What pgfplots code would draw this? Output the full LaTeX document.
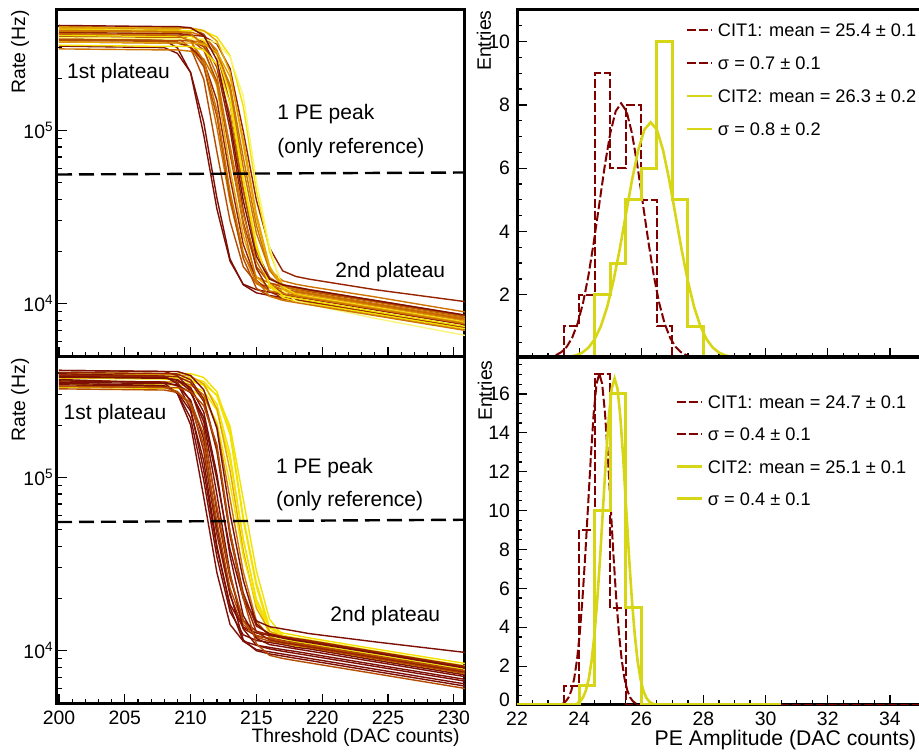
\documentclass[border=0pt]{standalone}
\usepackage{fontspec}
\setmainfont{Liberation Sans}
\usepackage{pgfplots}
\pgfplotsset{compat=1.18}

% ROOT-like colours
\definecolor{cr}{RGB}{128,0,0}
\definecolor{cy}{RGB}{214,214,22}
\definecolor{p1}{RGB}{125,15,5}
\definecolor{p2}{RGB}{150,35,0}
\definecolor{p3}{RGB}{180,75,0}
\definecolor{p4}{RGB}{205,115,0}
\definecolor{p5}{RGB}{228,165,0}
\definecolor{p6}{RGB}{242,225,0}
\definecolor{p7}{RGB}{250,245,120}

\newcommand{\tkfont}{\fontsize{9.7bp}{11bp}\selectfont}
\newcommand{\lbfont}{\fontsize{9.7bp}{11bp}\selectfont}
\newcommand{\anfont}{\fontsize{10.5bp}{12bp}\selectfont}
\newcommand{\lgfont}{\fontsize{9.1bp}{11bp}\selectfont}

\tikzset{
  redline/.style={cr, line width=1bp, dash pattern=on 4.5bp off 1.5bp},
  yelhline/.style={cy, line width=1.5bp},
  yelline/.style={cy, line width=1.3bp},
}

\pgfplotsset{
  rootframe/.style={
    scale only axis,
    axis line style={line width=1.5bp},
    tick align=inside,
    tick pos=left,
    major tick length=5bp,
    minor tick length=2.5bp,
    tick style={line width=0.6bp, black},
    tick label style={font=\tkfont},
    xticklabel={\pgfmathprintnumber[assume math mode=true]{\tick}},
    yticklabel={\pgfmathprintnumber[assume math mode=true]{\tick}},
  },
  ratepanel/.style={
    rootframe,
    width=204bp, height=173.5bp,
    xmin=199.85, xmax=230.85,
    ymin=4.9e3, ymax=4.95e5,
    xtick={200,205,...,230}, minor x tick num=4,
    ytick={1e4,1e5}, yticklabels={10\textsuperscript{4},10\textsuperscript{5}},
    extra y ticks={5e3,6e3,7e3,8e3,9e3,2e4,3e4,4e4,5e4,6e4,7e4,8e4,9e4,2e5,3e5,4e5},
    extra y tick labels={},
    extra y tick style={major tick length=2.5bp},
    yticklabel style={inner sep=1.5bp},
    every axis plot/.append style={line width=0.7bp},
  },
  histpanel/.style={
    rootframe,
    width=202bp, height=174bp,
    xmin=22, xmax=35, ymin=0,
    xtick={22,24,...,34}, minor x tick num=3,
    legend cell align=left,
  },
}

\begin{document}
\begin{tikzpicture}
\path[use as bounding box] (0,0) rectangle (459.5bp,376bp);

% ---------------- top left: threshold scans, first set ----------------
\begin{axis}[ymode=log, ratepanel, name=tl, at={(28.5bp,371bp)}, anchor=north west, xticklabels={}]
\addplot[p1] coordinates {(200,3.42e5)(208,3.31e5)(209,2.99e5)(210,2.15e5)(211,9.39e4)(212,3.51e4)(213,1.75e4)(214,1.29e4)(215,1.20e4)(216,1.16e4)(217,1.13e4)(218,1.10e4)(219,1.07e4)(224,9.23e3)(231,7.54e3)};
\addplot[p1] coordinates {(200,3.06e5)(208,3.00e5)(209,2.78e5)(210,2.16e5)(211,1.11e5)(212,4.06e4)(213,1.80e4)(214,1.28e4)(215,1.15e4)(216,1.11e4)(217,1.08e4)(218,1.05e4)(219,1.02e4)(224,8.85e3)(231,7.24e3)};
\addplot[p3] coordinates {(200,3.60e5)(208,3.55e5)(209,3.43e5)(210,2.99e5)(211,1.97e5)(212,7.50e4)(213,2.99e4)(214,1.63e4)(215,1.31e4)(216,1.24e4)(217,1.21e4)(218,1.17e4)(219,1.14e4)(224,9.88e3)(231,8.07e3)};
\addplot[p4] coordinates {(200,3.78e5)(208,3.73e5)(209,3.66e5)(210,3.30e5)(211,2.38e5)(212,1.04e5)(213,3.86e4)(214,1.92e4)(215,1.42e4)(216,1.31e4)(217,1.27e4)(218,1.24e4)(219,1.20e4)(224,1.04e4)(231,8.50e3)};
\addplot[p3] coordinates {(200,3.31e5)(208,3.26e5)(209,3.24e5)(210,3.00e5)(211,2.33e5)(212,1.20e5)(213,4.11e4)(214,1.82e4)(215,1.22e4)(216,1.10e4)(217,1.06e4)(218,1.03e4)(219,9.99e3)(224,8.65e3)(231,7.08e3)};
\addplot[p5] coordinates {(200,3.89e5)(208,3.83e5)(209,3.83e5)(210,3.64e5)(211,3.01e5)(212,1.79e5)(213,5.96e4)(214,2.47e4)(215,1.42e4)(216,1.23e4)(217,1.18e4)(218,1.14e4)(219,1.11e4)(224,9.64e3)(231,7.88e3)};
\addplot[p3] coordinates {(200,3.49e5)(208,3.44e5)(209,3.44e5)(210,3.33e5)(211,2.90e5)(212,1.91e5)(213,7.27e4)(214,2.95e4)(215,1.63e4)(216,1.31e4)(217,1.24e4)(218,1.21e4)(219,1.17e4)(224,1.02e4)(231,8.31e3)};
\addplot[p2] coordinates {(200,3.67e5)(208,3.62e5)(209,3.62e5)(210,3.56e5)(211,3.21e5)(212,2.31e5)(213,1.01e5)(214,3.46e4)(215,1.59e4)(216,1.17e4)(217,1.08e4)(218,1.05e4)(219,1.02e4)(224,8.84e3)(231,7.23e3)};
\addplot[p4] coordinates {(200,2.95e5)(208,2.91e5)(209,2.91e5)(210,2.86e5)(211,2.58e5)(212,1.86e5)(213,8.11e4)(214,3.28e4)(215,1.75e4)(216,1.29e4)(217,1.20e4)(218,1.16e4)(219,1.13e4)(224,9.77e3)(231,7.99e3)};
\addplot[p3] coordinates {(200,3.96e5)(208,3.90e5)(209,3.90e5)(210,3.88e5)(211,3.59e5)(212,2.79e5)(213,1.43e5)(214,4.61e4)(215,2.05e4)(216,1.28e4)(217,1.15e4)(218,1.11e4)(219,1.08e4)(224,9.37e3)(231,7.66e3)};
\addplot[p6] coordinates {(200,3.53e5)(208,3.48e5)(209,3.48e5)(210,3.48e5)(211,3.30e5)(212,2.73e5)(213,1.63e5)(214,5.31e4)(215,2.20e4)(216,1.25e4)(217,1.08e4)(218,1.03e4)(219,1.00e4)(224,8.68e3)(231,7.10e3)};
\addplot[p4] coordinates {(200,3.74e5)(208,3.69e5)(209,3.69e5)(210,3.69e5)(211,3.50e5)(212,2.90e5)(213,1.73e5)(214,6.12e4)(215,2.54e4)(216,1.56e4)(217,1.35e4)(218,1.29e4)(219,1.25e4)(224,1.09e4)(231,8.88e3)};
\addplot[p4] coordinates {(200,3.35e5)(208,3.30e5)(209,3.30e5)(210,3.30e5)(211,3.19e5)(212,2.78e5)(213,1.83e5)(214,6.97e4)(215,2.82e4)(216,1.55e4)(217,1.25e4)(218,1.19e4)(219,1.15e4)(224,9.99e3)(231,8.17e3)};
\addplot[p2] coordinates {(200,3.60e5)(208,3.55e5)(209,3.55e5)(210,3.55e5)(211,3.49e5)(212,3.15e5)(213,2.27e5)(214,9.89e4)(215,3.95e4)(216,2.09e4)(217,1.54e4)(218,1.43e4)(219,1.38e4)(224,1.20e4)(231,1.02e4)};
\addplot[p6] coordinates {(200,3.82e5)(208,3.76e5)(209,3.76e5)(210,3.76e5)(211,3.74e5)(212,3.46e5)(213,2.69e5)(214,1.38e5)(215,4.48e4)(216,1.99e4)(217,1.25e4)(218,1.13e4)(219,1.09e4)(224,9.46e3)(231,7.73e3)};
\addplot[p7] coordinates {(200,3.42e5)(208,3.37e5)(209,3.37e5)(210,3.37e5)(211,3.37e5)(212,3.20e5)(213,2.65e5)(214,1.58e5)(215,5.12e4)(216,2.12e4)(217,1.19e4)(218,1.03e4)(219,9.87e3)(224,8.20e3)(231,6.50e3)};
\addplot[p2] coordinates {(200,3.24e5)(208,3.19e5)(209,3.19e5)(210,3.03e5)(211,2.51e5)(212,1.49e5)(213,5.31e4)(214,2.20e4)(215,1.36e4)(216,1.17e4)(217,1.12e4)(218,1.09e4)(219,1.06e4)(224,9.18e3)(231,7.50e3)};
\addplot[p5] coordinates {(200,3.96e5)(208,3.90e5)(209,3.90e5)(210,3.90e5)(211,3.77e5)(212,3.28e5)(213,2.17e5)(214,8.25e4)(215,3.11e4)(216,1.60e4)(217,1.29e4)(218,1.22e4)(219,1.19e4)(224,1.03e4)(231,8.40e3)};
\addplot[p4] coordinates {(200,3.78e5)(208,3.73e5)(209,3.73e5)(210,3.60e5)(211,3.13e5)(212,2.07e5)(213,7.87e4)(214,2.81e4)(215,1.36e4)(216,1.10e4)(217,1.04e4)(218,1.01e4)(219,9.82e3)(224,8.50e3)(231,6.95e3)};
\addplot[p3] coordinates {(200,3.35e5)(208,3.30e5)(209,3.30e5)(210,3.28e5)(211,3.04e5)(212,2.36e5)(213,1.21e5)(214,4.46e4)(215,1.98e4)(216,1.41e4)(217,1.27e4)(218,1.23e4)(219,1.19e4)(224,1.03e4)(231,8.43e3)};
\addplot[p5] coordinates {(200,3.24e5)(208,3.19e5)(209,3.19e5)(210,3.19e5)(211,3.14e5)(212,2.83e5)(213,2.04e5)(214,8.90e4)(215,3.30e4)(216,1.64e4)(217,1.21e4)(218,1.12e4)(219,1.08e4)(224,9.39e3)(231,7.67e3)};
\addplot[p4] coordinates {(200,3.60e5)(208,3.55e5)(209,3.52e5)(210,3.27e5)(211,2.54e5)(212,1.30e5)(213,4.43e4)(214,1.97e4)(215,1.30e4)(216,1.18e4)(217,1.14e4)(218,1.10e4)(219,1.07e4)(224,9.29e3)(231,7.60e3)};
\addplot[p6] coordinates {(200,3.10e5)(208,3.05e5)(209,3.05e5)(210,3.05e5)(211,2.90e5)(212,2.40e5)(213,1.43e5)(214,5.06e4)(215,2.10e4)(216,1.29e4)(217,1.11e4)(218,1.07e4)(219,1.04e4)(224,8.97e3)(231,7.33e3)};
\addplot[p1] coordinates {(200,4.03e5)(208,3.97e5)(209,3.97e5)(210,3.91e5)(211,3.52e5)(212,2.54e5)(213,1.11e5)(214,3.93e4)(215,1.87e4)(216,1.38e4)(217,1.28e4)(218,1.24e4)(219,1.20e4)(224,1.04e4)(231,8.52e3)};
% 1 PE reference level
\addplot[black, line width=1.2bp, dash pattern=on 7.5bp off 3.5bp] coordinates {(199.85,5.55e4)(230.85,5.70e4)};
\end{axis}

% ---------------- bottom left: threshold scans, second set ----------------
\begin{axis}[ymode=log, ratepanel, name=bl, at={(28.5bp,197.5bp)}, anchor=north west]
\addplot[p6] coordinates {(200,4.03e5)(208,3.97e5)(209,3.97e5)(210,3.97e5)(211,3.77e5)(212,3.12e5)(213,1.86e5)(214,5.93e4)(215,2.46e4)(216,1.36e4)(217,1.17e4)(218,1.12e4)(219,1.09e4)(224,9.44e3)(231,7.72e3)};
\addplot[p6] coordinates {(200,3.60e5)(208,3.55e5)(209,3.55e5)(210,3.55e5)(211,3.43e5)(212,2.99e5)(213,1.97e5)(214,7.50e4)(215,2.88e4)(216,1.51e4)(217,1.22e4)(218,1.15e4)(219,1.12e4)(224,9.70e3)(231,7.94e3)};
\addplot[p6] coordinates {(200,3.74e5)(208,3.69e5)(209,3.69e5)(210,3.66e5)(211,3.40e5)(212,2.64e5)(213,1.36e5)(214,4.37e4)(215,1.94e4)(216,1.22e4)(217,1.10e4)(218,1.06e4)(219,1.03e4)(224,8.90e3)(231,7.28e3)};
\addplot[p6] coordinates {(200,3.82e5)(208,3.76e5)(209,3.76e5)(210,3.76e5)(211,3.57e5)(212,2.95e5)(213,1.76e5)(214,5.65e4)(215,2.34e4)(216,1.30e4)(217,1.12e4)(218,1.08e4)(219,1.05e4)(224,9.06e3)(231,7.41e3)};
\addplot[p6] coordinates {(200,3.46e5)(208,3.41e5)(209,3.41e5)(210,3.38e5)(211,3.14e5)(212,2.44e5)(213,1.25e5)(214,4.43e4)(215,1.97e4)(216,1.36e4)(217,1.22e4)(218,1.18e4)(219,1.15e4)(224,9.93e3)(231,8.12e3)};
\addplot[p5] coordinates {(200,3.96e5)(208,3.90e5)(209,3.90e5)(210,3.84e5)(211,3.46e5)(212,2.49e5)(213,1.09e5)(214,3.77e4)(215,1.75e4)(216,1.29e4)(217,1.20e4)(218,1.16e4)(219,1.13e4)(224,9.77e3)(231,7.99e3)};
\addplot[p6] coordinates {(200,3.31e5)(208,3.26e5)(209,3.26e5)(210,3.21e5)(211,2.89e5)(212,2.08e5)(213,9.10e4)(214,3.54e4)(215,1.84e4)(216,1.36e4)(217,1.26e4)(218,1.22e4)(219,1.18e4)(224,1.02e4)(231,8.37e3)};
\addplot[p4] coordinates {(200,3.60e5)(208,3.55e5)(209,3.55e5)(210,3.43e5)(211,2.99e5)(212,1.97e5)(213,7.50e4)(214,2.85e4)(215,1.48e4)(216,1.19e4)(217,1.13e4)(218,1.10e4)(219,1.07e4)(224,9.24e3)(231,7.55e3)};
\addplot[p1] coordinates {(200,3.67e5)(208,3.50e5)(209,3.04e5)(210,2.01e5)(211,7.65e4)(212,2.81e4)(213,1.41e4)(214,1.13e4)(215,1.07e4)(216,1.04e4)(217,1.01e4)(218,9.85e3)(219,9.57e3)(224,8.28e3)(231,6.77e3)};
\addplot[p1] coordinates {(200,3.96e5)(208,3.84e5)(209,3.46e5)(210,2.49e5)(211,1.09e5)(212,3.86e4)(213,1.84e4)(214,1.36e4)(215,1.26e4)(216,1.22e4)(217,1.18e4)(218,1.15e4)(219,1.12e4)(224,9.67e3)(231,7.90e3)};
\addplot[p1] coordinates {(200,3.49e5)(208,3.38e5)(209,3.05e5)(210,2.20e5)(211,9.59e4)(212,3.46e4)(213,1.67e4)(214,1.23e4)(215,1.14e4)(216,1.11e4)(217,1.08e4)(218,1.04e4)(219,1.02e4)(224,8.79e3)(231,7.18e3)};
\addplot[p1] coordinates {(200,3.42e5)(208,3.35e5)(209,3.10e5)(210,2.41e5)(211,1.24e5)(212,4.02e4)(213,1.78e4)(214,1.13e4)(215,1.01e4)(216,9.80e3)(217,9.52e3)(218,9.26e3)(219,8.99e3)(224,7.79e3)(231,6.37e3)};
\addplot[p2] coordinates {(200,3.89e5)(208,3.81e5)(209,3.53e5)(210,2.74e5)(211,1.41e5)(212,4.68e4)(213,2.08e4)(214,1.34e4)(215,1.21e4)(216,1.17e4)(217,1.14e4)(218,1.10e4)(219,1.07e4)(224,9.29e3)(231,7.60e3)};
\addplot[p1] coordinates {(200,3.60e5)(208,3.55e5)(209,3.37e5)(210,2.79e5)(211,1.66e5)(212,5.17e4)(213,2.14e4)(214,1.15e4)(215,9.95e3)(216,9.54e3)(217,9.27e3)(218,9.00e3)(219,8.75e3)(224,7.57e3)(231,6.19e3)};
\addplot[p3] coordinates {(200,3.35e5)(208,3.30e5)(209,3.13e5)(210,2.59e5)(211,1.54e5)(212,5.51e4)(213,2.28e4)(214,1.41e4)(215,1.22e4)(216,1.17e4)(217,1.13e4)(218,1.10e4)(219,1.07e4)(224,9.27e3)(231,7.57e3)};
\addplot[p2] coordinates {(200,4.14e5)(208,4.08e5)(209,3.87e5)(210,3.20e5)(211,1.91e5)(212,6.29e4)(213,2.61e4)(214,1.49e4)(215,1.29e4)(216,1.23e4)(217,1.20e4)(218,1.16e4)(219,1.13e4)(224,9.80e3)(231,8.01e3)};
\addplot[p1] coordinates {(200,3.82e5)(208,3.76e5)(209,3.63e5)(210,3.16e5)(211,2.09e5)(212,7.95e4)(213,2.79e4)(214,1.33e4)(215,1.07e4)(216,1.02e4)(217,9.88e3)(218,9.60e3)(219,9.33e3)(224,8.08e3)(231,6.61e3)};
\addplot[p3] coordinates {(200,3.24e5)(208,3.19e5)(209,3.09e5)(210,2.69e5)(211,1.77e5)(212,6.75e4)(213,2.71e4)(214,1.48e4)(215,1.19e4)(216,1.13e4)(217,1.10e4)(218,1.07e4)(219,1.04e4)(224,8.98e3)(231,7.34e3)};
\addplot[p1] coordinates {(200,3.78e5)(208,3.73e5)(209,3.66e5)(210,3.30e5)(211,2.38e5)(212,1.04e5)(213,3.51e4)(214,1.59e4)(215,1.17e4)(216,1.08e4)(217,1.05e4)(218,1.02e4)(219,9.92e3)(224,8.59e3)(231,7.02e3)};
\addplot[p1] coordinates {(200,3.53e5)(208,3.48e5)(209,3.42e5)(210,3.08e5)(211,2.22e5)(212,9.69e4)(213,3.82e4)(214,2.00e4)(215,1.48e4)(216,1.37e4)(217,1.33e4)(218,1.29e4)(219,1.25e4)(224,1.12e4)(231,9.70e3)};
\addplot[p2] coordinates {(200,3.89e5)(208,3.83e5)(209,3.81e5)(210,3.53e5)(211,2.74e5)(212,1.41e5)(213,4.57e4)(214,2.03e4)(215,1.28e4)(216,1.15e4)(217,1.11e4)(218,1.08e4)(219,1.05e4)(224,9.11e3)(231,7.45e3)};
\addplot[p2] coordinates {(200,4.03e5)(208,3.97e5)(209,3.95e5)(210,3.66e5)(211,2.84e5)(212,1.46e5)(213,4.83e4)(214,2.15e4)(215,1.38e4)(216,1.25e4)(217,1.20e4)(218,1.17e4)(219,1.14e4)(224,9.84e3)(231,8.05e3)};
\addplot[p3] coordinates {(200,3.35e5)(208,3.30e5)(209,3.30e5)(210,3.13e5)(211,2.59e5)(212,1.54e5)(213,4.84e4)(214,2.00e4)(215,1.09e4)(216,9.36e3)(217,8.98e3)(218,8.72e3)(219,8.47e3)(224,7.34e3)(231,6.00e3)};
\addplot[p1] coordinates {(200,4.14e5)(208,4.08e5)(209,4.08e5)(210,3.87e5)(211,3.20e5)(212,1.91e5)(213,6.15e4)(214,2.55e4)(215,1.42e4)(216,1.23e4)(217,1.18e4)(218,1.14e4)(219,1.11e4)(224,9.64e3)(231,7.88e3)};
\addplot[black, line width=1.2bp, dash pattern=on 7.5bp off 3.5bp] coordinates {(199.85,5.51e4)(230.85,5.68e4)};
\end{axis}

% ---------------- top right: PE amplitude, first set ----------------
\begin{axis}[histpanel, name=tr, at={(258.5bp,371bp)}, anchor=north west,
  ymax=11, ytick={2,4,...,10}, minor ytick={0.5,1,...,10.5}, xticklabels={},
  legend image code/.code={\draw[#1] (0bp,0bp) -- (12.5bp,0bp);},
  legend style={draw=none, fill=none, at={(0.4158,0.963)}, anchor=north west,
    inner sep=0pt, row sep=9.9bp, font=\lgfont,
    nodes={inner sep=0pt, text height=6.6bp, text depth=0pt},
    /tikz/every odd column/.append style={column sep=2.5bp}}]
\addplot[const plot, forget plot, redline] coordinates {(22,0)(23.5,1)(24,2)(24.5,9)(25,6)(25.5,8)(26,5)(26.5,1)(27,0)(35,0)};
\addplot[redline] coordinates {(23.25,0.0894)(23.425,0.184)(23.6,0.353)(23.775,0.641)(23.95,1.09)(24.125,1.74)(24.3,2.61)(24.475,3.69)(24.65,4.88)(24.825,6.08)(25.0,7.10)(25.175,7.80)(25.35,8.05)(25.525,7.80)(25.7,7.10)(25.875,6.08)(26.05,4.88)(26.225,3.69)(26.4,2.61)(26.575,1.74)(26.75,1.09)(26.925,0.641)(27.1,0.353)(27.275,0.184)(27.45,0.0894)(27.625,0.041)};
\addlegendentry{CIT1: mean = 25.4 ± 0.1}
\addlegendimage{redline}
\addlegendentry{σ = 0.7 ± 0.1}
\addplot[const plot, forget plot, yelhline] coordinates {(22,0)(24.5,2)(25,3)(25.5,5)(26,6)(26.5,10)(27,5)(27.5,1)(28,0)(35,0)};
\addplot[yelline] coordinates {(23.3,0.0066)(23.5,0.0163)(23.7,0.0379)(23.9,0.0827)(24.1,0.170)(24.3,0.327)(24.5,0.593)(24.7,1.008)(24.9,1.61)(25.1,2.42)(25.3,3.41)(25.5,4.52)(25.7,5.62)(25.9,6.57)(26.1,7.22)(26.3,7.45)(26.5,7.22)(26.7,6.57)(26.9,5.62)(27.1,4.52)(27.3,3.41)(27.5,2.42)(27.7,1.61)(27.9,1.008)(28.1,0.593)(28.3,0.327)(28.5,0.170)(28.7,0.0827)(28.9,0.0379)};
\addlegendentry{CIT2: mean = 26.3 ± 0.2}
\addlegendimage{yelline}
\addlegendentry{σ = 0.8 ± 0.2}
\end{axis}

% ---------------- bottom right: PE amplitude, second set ----------------
\begin{axis}[histpanel, name=br, at={(258.5bp,197.5bp)}, anchor=north west,
  ymax=17.9, ytick={2,4,...,16}, minor ytick={0.5,1,...,17.5},
  extra y ticks={0}, extra y tick style={yticklabel style={yshift=2.5bp}},
  legend image code/.code={\draw[#1] (0bp,0bp) -- (12.5bp,0bp);},
  legend style={draw=none, fill=none, at={(0.391,0.8905)}, anchor=north west,
    inner sep=0pt, row sep=9.5bp, font=\lgfont,
    nodes={inner sep=0pt, text height=6.6bp, text depth=0pt},
    /tikz/every odd column/.append style={column sep=2.5bp}}]
\addplot[const plot, forget plot, redline] coordinates {(22,0)(23.5,1)(24,9)(24.5,17)(25,5)(25.5,0)(35,0)};
\addplot[redline] coordinates {(23.48,0.0868)(23.57,0.189)(23.66,0.389)(23.75,0.749)(23.84,1.357)(23.93,2.31)(24.02,3.69)(24.11,5.54)(24.2,7.81)(24.29,10.34)(24.38,12.87)(24.47,15.05)(24.56,16.52)(24.65,17.05)(24.74,16.52)(24.83,15.05)(24.92,12.87)(25.01,10.34)(25.10,7.81)(25.19,5.54)(25.28,3.69)(25.37,2.31)(25.46,1.357)(25.55,0.749)(25.64,0.389)(25.73,0.189)(25.82,0.0868)(25.91,0.0375)};
\addlegendentry{CIT1: mean = 24.7 ± 0.1}
\addlegendimage{redline}
\addlegendentry{σ = 0.4 ± 0.1}
\addplot[const plot, forget plot, yelhline] coordinates {(22,0)(24,1)(24.5,10)(25,16)(25.5,5)(26,0)(30.5,0)};
\addplot[yelline] coordinates {(23.938,0.0855)(24.03,0.186)(24.123,0.383)(24.215,0.738)(24.308,1.337)(24.4,2.273)(24.493,3.634)(24.585,5.455)(24.678,7.69)(24.77,10.19)(24.863,12.68)(24.955,14.83)(25.048,16.28)(25.14,16.8)(25.233,16.28)(25.325,14.83)(25.418,12.68)(25.51,10.19)(25.603,7.69)(25.695,5.455)(25.788,3.634)(25.88,2.273)(25.973,1.337)(26.065,0.738)(26.158,0.383)(26.25,0.186)(26.343,0.0855)(26.435,0.037)};
\addlegendentry{CIT2: mean = 25.1 ± 0.1}
\addlegendimage{yelline}
\addlegendentry{σ = 0.4 ± 0.1}
\end{axis}

% ---------------- labels ----------------
\node[rotate=90, anchor=east, inner sep=0pt, font=\lbfont] at (10bp,371bp) {Rate (Hz)};
\node[rotate=90, anchor=east, inner sep=0pt, font=\lbfont] at (10bp,197bp) {Rate (Hz)};
\node[rotate=90, anchor=east, inner sep=0pt, font=\lbfont] at (242bp,371bp) {Entries};
\node[rotate=90, anchor=east, inner sep=0pt, font=\lbfont] at (242.5bp,196bp) {Entries};
\node[anchor=base east, inner sep=0pt, font=\lbfont] at (230bp,4.65bp) {Threshold (DAC counts)};
\node[anchor=base east, inner sep=0pt, font=\fontsize{10.6bp}{12bp}\selectfont] at (458.35bp,3.5bp) {PE Amplitude (DAC counts)};

\node[anchor=base west, inner sep=0pt, font=\anfont] at (33.35bp,336.85bp) {1st plateau};
\node[anchor=base west, inner sep=0pt, font=\anfont] at (138.5bp,316.35bp) {1 PE peak};
\node[anchor=base west, inner sep=0pt, font=\anfont] at (138.5bp,299bp) {(only reference)};
\node[anchor=base west, inner sep=0pt, font=\anfont] at (167.5bp,237.15bp) {2nd plateau};

\node[anchor=base west, inner sep=0pt, font=\anfont] at (31.65bp,166.35bp) {1st plateau};
\node[anchor=base west, inner sep=0pt, font=\anfont] at (137.85bp,139.35bp) {1 PE peak};
\node[anchor=base west, inner sep=0pt, font=\anfont] at (137.85bp,122.65bp) {(only reference)};
\node[anchor=base west, inner sep=0pt, font=\anfont] at (165bp,65.15bp) {2nd plateau};
\end{tikzpicture}
\end{document}
